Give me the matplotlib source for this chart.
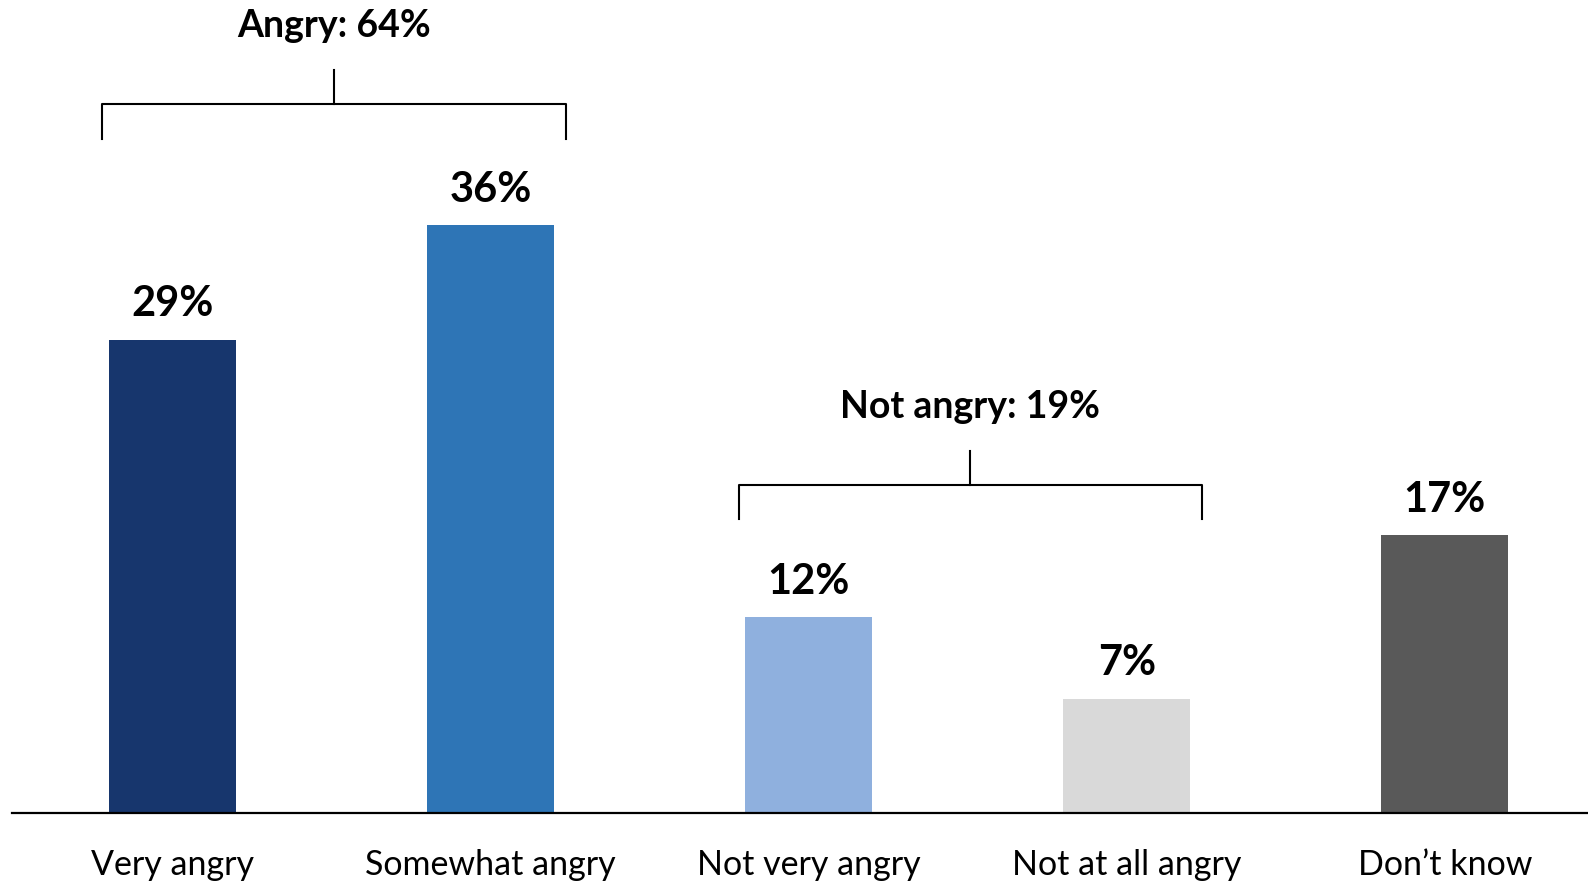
import matplotlib.pyplot as plt
import numpy as np

# data
categories = ['Very angry', 'Somewhat angry', 'Not very angry', 'Not at all angry', 'Don\u2019t know']
values = [29, 36, 12, 7, 17]
colors = ['#17366D', '#2E75B6', '#8FB0DE', '#D9D9D9', '#595959']
group_labels = ['Angry: 64%', 'Not angry: 19%']
group_spans = [(0, 1), (2, 3)]

plt.rcParams['font.family'] = ['Lato', 'DejaVu Sans']

fig = plt.figure(figsize=(15.88, 8.81), dpi=100)
ax = fig.add_axes([0.0077, 0.0772, 0.9923, 0.9228])

x = np.arange(len(categories))
ax.bar(x, values, width=0.40, color=colors, zorder=2)

for xi, v in zip(x, values):
    ax.text(xi, v + 1.0, f'{v}%', ha='center', va='bottom',
            fontsize=30, fontweight='bold', color='black')

# brackets over the grouped bars
for (a, b), lab, top in zip(group_spans, group_labels, [max(values[0:2]), max(values[2:4])]):
    base = top + 5.3 if a == 0 else top + 6.0
    left, right = a - 0.22, b + 0.238
    h = base + 2.1
    ax.plot([left, left, right, right], [base, h, h, base], color='black', lw=1.5, clip_on=False)
    mid = (left + right) / 2
    ax.plot([mid, mid], [h, h + 2.1], color='black', lw=1.5, clip_on=False)
    ax.text(mid, h + 3.75, lab, ha='center', va='bottom', fontsize=27,
            fontweight='bold', color='black')

ax.set_xlim(-0.503, 4.45)
ax.set_ylim(0, 49.8)
ax.set_xticks(x)
ax.set_xticklabels(categories, fontsize=24.5)
ax.tick_params(axis='x', length=0, pad=26)
ax.set_yticks([])
for s in ['top', 'right', 'left']:
    ax.spines[s].set_visible(False)
ax.spines['bottom'].set_linewidth(1.6)

fig.savefig('out.png', dpi=100)
